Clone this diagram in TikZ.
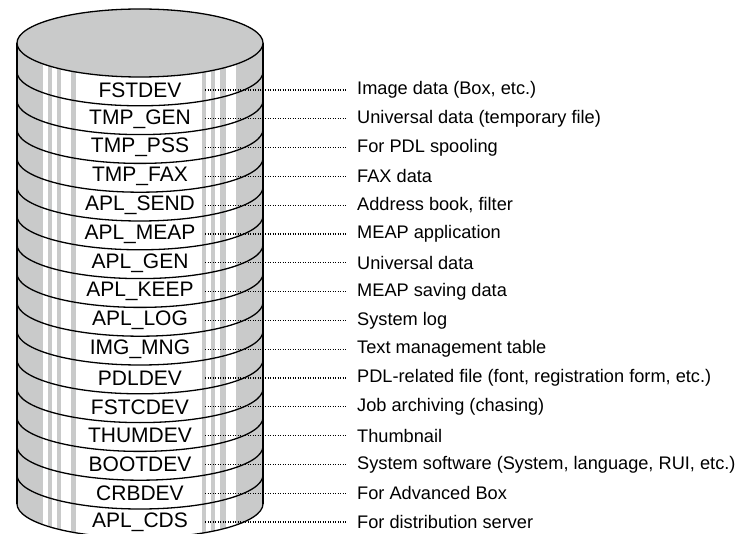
\documentclass[tikz,border=0pt]{standalone}
\usepackage{fontspec}
\setmainfont{Liberation Sans}
\definecolor{drumgray}{RGB}{201,202,202}
\begin{document}
\begin{tikzpicture}[x=1pt,y=1pt,
  rim/.style={line width=1.3pt},
  lead/.style={line width=1.2pt, dash pattern=on 1pt off 1.5pt},
  vol/.style={font=\fontsize{21}{21}\selectfont, inner sep=0pt, minimum width=130pt, minimum height=20pt},
  desc/.style={font=\fontsize{18.2}{18.2}\selectfont, anchor=west, inner sep=0pt}]
\useasboundingbox (0,0) rectangle (747,-534);
\begin{scope}
  \clip (0,0) rectangle (747,-534);
  % drum body with its vertical stripes
  \fill[drumgray] (17,-43) -- (17,-503.8)
     arc[start angle=180, end angle=360, x radius=123, y radius=34] -- (263,-43) -- cycle;
  \begin{scope}
    \clip (17,-43) -- (17,-503.8)
       arc[start angle=180, end angle=360, x radius=123, y radius=34] -- (263,-43) -- cycle;
    \foreach \a/\b in {43/48, 52/57, 61/71, 76/202, 206/211, 215/220, 226/236}
      \fill[white] (\a,0) rectangle (\b,-540);
  \end{scope}
  % partition rims
  \foreach \k in {1,...,16}
    \draw[rim] (17,{-43-28.8*\k}) arc[start angle=180, end angle=360, x radius=123, y radius=34];
  % sides
  \draw[rim] (17,-43) -- (17,-503.8);
  \draw[line width=1.8pt] (263,-43) -- (263,-503.8);
  % lid
  \draw[rim, fill=drumgray] (140,-43) ellipse[x radius=123, y radius=34];
\end{scope}

\foreach \i/\v/\d in {
  0/FSTDEV/{Image data (Box, etc.)},
  1/TMP\_GEN/{Universal data (temporary file)},
  2/TMP\_PSS/{For PDL spooling},
  3/TMP\_FAX/{FAX data},
  4/APL\_SEND/{Address book, filter},
  5/APL\_MEAP/{MEAP application},
  6/APL\_GEN/{Universal data},
  7/APL\_KEEP/{MEAP saving data},
  8/APL\_LOG/{System log},
  9/IMG\_MNG/{Text management table},
  10/PDLDEV/{PDL-related file (font, registration form, etc.)},
  11/FSTCDEV/{Job archiving (chasing)},
  12/THUMDEV/{Thumbnail},
  13/BOOTDEV/{System software (System, language, RUI, etc.)},
  14/CRBDEV/{For Advanced Box},
  15/APL\_CDS/{For distribution server}} {
  \node[vol] (v\i) at (140,{-90-28.8*\i}) {\v};
  \node[desc] (d\i) at (357,{-90-28.8*\i}) {\d};
  \draw[lead] (v\i.east) -- ([xshift=-10pt]d\i.west);
}
\end{tikzpicture}
\end{document}
